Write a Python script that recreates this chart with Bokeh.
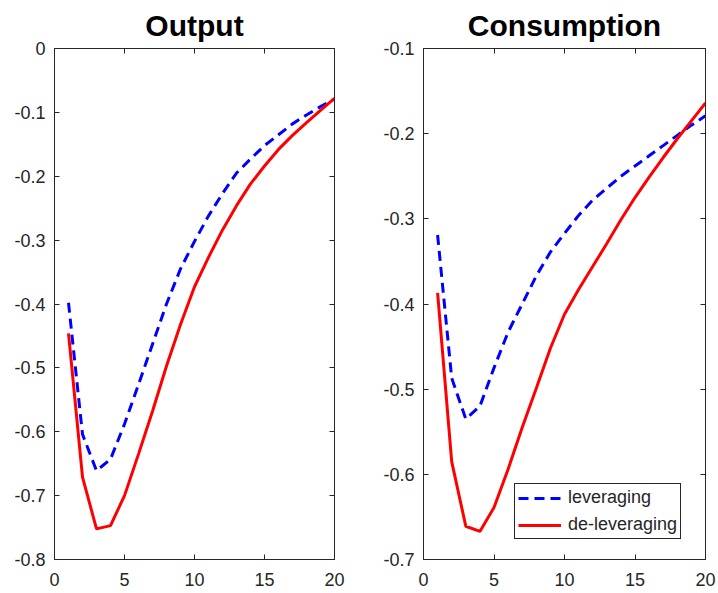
from bokeh.plotting import figure
from bokeh.layouts import row
from bokeh.models import Range1d, LinearAxis, FixedTicker
from bokeh.embed import file_html
from bokeh.resources import INLINE

# periods after the shock
periods = list(range(1, 21))

output_lev = [-0.398, -0.604, -0.661, -0.643, -0.588, -0.526, -0.463, -0.400, -0.345, -0.302,
              -0.262, -0.227, -0.195, -0.173, -0.152, -0.135, -0.118, -0.104, -0.091, -0.079]
output_delev = [-0.446, -0.671, -0.752, -0.747, -0.700, -0.635, -0.568, -0.497, -0.432, -0.373,
                -0.327, -0.284, -0.246, -0.212, -0.184, -0.158, -0.136, -0.116, -0.097, -0.078]

consumption_lev = [-0.319, -0.487, -0.535, -0.520, -0.475, -0.433, -0.400, -0.367, -0.339, -0.317,
                   -0.296, -0.278, -0.264, -0.250, -0.238, -0.226, -0.214, -0.202, -0.190, -0.179]
consumption_delev = [-0.387, -0.585, -0.661, -0.667, -0.639, -0.594, -0.545, -0.499, -0.452, -0.412,
                     -0.383, -0.356, -0.329, -0.301, -0.275, -0.251, -0.228, -0.206, -0.185, -0.164]

x_ticks = [0, 5, 10, 15, 20]
output_ticks = [0, -0.1, -0.2, -0.3, -0.4, -0.5, -0.6, -0.7, -0.8]
output_labels = ["0", "-0.1", "-0.2", "-0.3", "-0.4", "-0.5", "-0.6", "-0.7", "-0.8"]
consumption_ticks = [-0.1, -0.2, -0.3, -0.4, -0.5, -0.6, -0.7]
consumption_labels = ["-0.1", "-0.2", "-0.3", "-0.4", "-0.5", "-0.6", "-0.7"]

FONT = "Liberation Sans"
DARK = "#262626"


def style_axis(axis, ticks, labels=None, show_labels=True, standoff=9):
    axis.ticker = FixedTicker(ticks=ticks)
    axis.major_tick_in = 5
    axis.major_tick_out = 0
    axis.minor_tick_line_color = None
    axis.axis_line_color = DARK
    axis.major_tick_line_color = DARK
    axis.major_label_text_font = FONT
    axis.major_label_text_color = DARK
    axis.major_label_text_font_size = "18px"
    axis.major_label_standoff = standoff
    if labels is not None:
        axis.major_label_overrides = dict(zip(ticks, labels))
    if not show_labels:
        # box ticks only, no labels
        axis.major_label_text_color = None
        axis.major_label_text_font_size = "1px"
        axis.major_label_standoff = 0


def make_panel(title, lev, delev, y_start, y_end, y_ticks, y_labels, width, border_left, border_right):
    p = figure(width=width, height=593, title=title, output_backend="svg", toolbar_location=None,
               x_range=Range1d(0, 20), y_range=Range1d(y_start, y_end),
               min_border_left=border_left, min_border_right=border_right,
               min_border_top=47, min_border_bottom=34)
    p.title.align = "center"
    p.title.text_font = FONT
    p.title.text_font_style = "bold"
    p.title.text_font_size = "30px"
    p.title.text_color = "black"
    p.title.standoff = 13
    p.grid.visible = False
    p.outline_line_color = DARK
    p.outline_line_alpha = 1

    style_axis(p.xaxis[0], x_ticks, standoff=13)
    style_axis(p.yaxis[0], y_ticks, y_labels)

    # MATLAB style box: ticks on top and right too
    top = LinearAxis()
    style_axis(top, x_ticks, show_labels=False)
    p.add_layout(top, "above")
    right = LinearAxis()
    style_axis(right, y_ticks, show_labels=False)
    p.add_layout(right, "right")

    p.line(periods, lev, line_color="#0000ff", line_width=3, line_dash="10 6", legend_label="leveraging")
    p.line(periods, delev, line_color="#ff0000", line_width=3, legend_label="de-leveraging")
    return p


p1 = make_panel("Output", output_lev, output_delev, -0.8, 0, output_ticks, output_labels, 368, 54, 34)
p1.legend.visible = False

p2 = make_panel("Consumption", consumption_lev, consumption_delev, -0.7, -0.1,
                consumption_ticks, consumption_labels, 350, 55, 13)
leg = p2.legend[0]
leg.location = (91, 20)
leg.label_text_font = FONT
leg.label_text_font_size = "18px"
leg.label_text_color = DARK
leg.glyph_width = 43
leg.glyph_height = 18
leg.label_height = 18
leg.label_standoff = 7
leg.spacing = 6
leg.padding = 3
leg.margin = 0
leg.border_line_color = DARK
leg.border_line_alpha = 1
leg.background_fill_alpha = 1

p = row(p1, p2)
open("out.html", "w").write(file_html(p, INLINE))
